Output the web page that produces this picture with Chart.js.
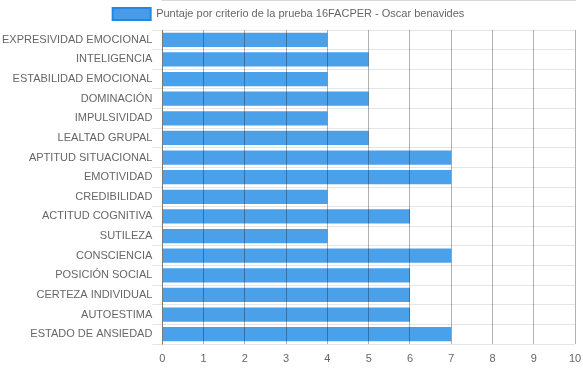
<!DOCTYPE html>
<html>
<head>
<meta charset="utf-8">
<script src="https://cdn.jsdelivr.net/npm/chart.js@4/dist/chart.umd.min.js"></script>
<style>
  html, body { margin: 0; padding: 0; background: #fff; }
  #wrap { width: 583px; height: 368px; }
</style>
</head>
<body>
<div id="wrap"><canvas id="chart"></canvas></div>
<script>
const categories = [
  'EXPRESIVIDAD EMOCIONAL', 'INTELIGENCIA', 'ESTABILIDAD EMOCIONAL', 'DOMINACIÓN',
  'IMPULSIVIDAD', 'LEALTAD GRUPAL', 'APTITUD SITUACIONAL', 'EMOTIVIDAD',
  'CREDIBILIDAD', 'ACTITUD COGNITIVA', 'SUTILEZA', 'CONSCIENCIA',
  'POSICIÓN SOCIAL', 'CERTEZA INDIVIDUAL', 'AUTOESTIMA', 'ESTADO DE ANSIEDAD'
];
const scores = [4, 5, 4, 5, 4, 5, 7, 7, 4, 6, 4, 7, 6, 6, 6, 7];
const seriesLabel = 'Puntaje por criterio de la prueba 16FACPER - Oscar benavides';
const xMin = 0, xMax = 10;

Chart.defaults.font.family = '"Liberation Sans", Arial, sans-serif';
Chart.defaults.font.size = 11;
Chart.defaults.color = '#666';

new Chart(document.getElementById('chart'), {
  type: 'bar',
  data: {
    labels: categories,
    datasets: [{
      label: seriesLabel,
      data: scores,
      backgroundColor: 'rgba(30, 136, 229, 0.8)',
      borderColor: 'rgba(30, 136, 229, 0.8)',
      borderWidth: 0
    }]
  },
  options: {
    indexAxis: 'y',
    responsive: true,
    maintainAspectRatio: false,
    animation: false,
    layout: { padding: { left: 2, right: 8, top: 0, bottom: 0 } },
    plugins: {
      legend: {
        labels: {
          boxWidth: 38,
          boxHeight: 12,
          padding: 8,
          generateLabels: chart => [{
            text: seriesLabel,
            fillStyle: 'rgba(74, 154, 232, 1)',
            strokeStyle: 'rgba(30, 136, 229, 1)',
            lineWidth: 2,
            datasetIndex: 0,
            fontColor: '#666'
          }]
        }
      },
      tooltip: { enabled: false }
    },
    scales: {
      x: {
        min: xMin,
        max: xMax,
        ticks: { stepSize: 1, color: '#666', padding: 8 },
        grid: { color: 'rgba(0,0,0,0.3)', z: 1, drawTicks: false },
        border: { color: 'rgba(0,0,0,0.3)' },
        afterFit: axis => { axis.height = 24; axis.paddingRight = 0; axis.paddingLeft = 0; }
      },
      y: {
        ticks: { color: '#666', padding: 0 },
        grid: { color: 'rgba(0,0,0,0.1)', tickLength: 10 },
        border: { color: 'rgba(0,0,0,0.3)' }
      }
    }
  }
});
</script>
</body>
</html>
